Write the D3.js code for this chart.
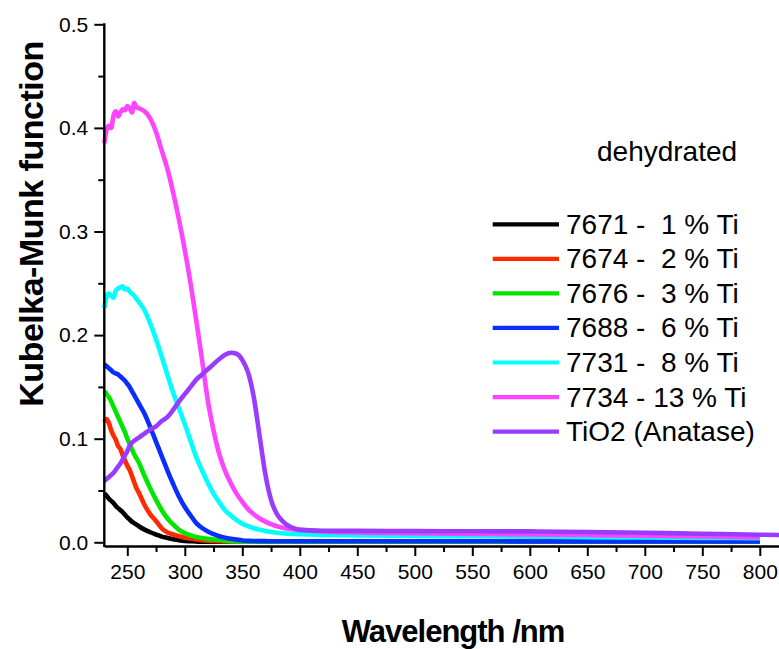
<!DOCTYPE html>
<html>
<head>
<meta charset="utf-8">
<script src="https://cdn.jsdelivr.net/npm/d3@7"></script>
<style>
  html, body { margin: 0; padding: 0; background: #fff; }
  svg { display: block; }
  text { font-family: "Liberation Sans", Arial, sans-serif; fill: #000; }
</style>
</head>
<body>
<svg id="chart" width="779" height="649"></svg>
<script>
// Wavelength grid (nm)
const wavelengths = [230,232,234,236,238,240,242,244,246,248,250,252,254,256,258,260,
  265,270,275,280,285,290,295,300,305,310,315,320,325,330,335,340,345,350,355,360,
  365,370,375,380,385,390,395,400,420,450,500,550,600,650,700,750,800,830];

// Kubelka-Munk function for each sample
const s7671 = [0.047,0.045,0.042,0.040,0.038,0.035,0.033,0.031,0.029,0.0265,0.024,0.022,0.020,0.0185,0.017,0.0155,
  0.0122,0.0097,0.0075,0.0055,0.0042,0.003,0.002,0.0013,0.001,0.0007,0.0005,0.0005,0.0005,0.0005,0.0005,0.0005,0.0005,0.0005,0.0005,0.0005,
  0.0005,0.0005,0.0005,0.0005,0.0005,0.0005,0.0005,0.0005,0.0005,0.0005,0.0005,0.0005,0.0005,0.0005,0.0005,0.0005,0.0005,null];
const s7674 = [0.116,0.119,0.115,0.108,0.103,0.099,0.093,0.090,0.084,0.079,0.074,0.070,0.064,0.058,0.052,0.048,
  0.036,0.027,0.0205,0.0135,0.0095,0.0075,0.0058,0.0045,0.0036,0.0028,0.0021,0.0016,0.0012,0.001,0.0008,0.0007,0.0006,0.0006,0.0005,0.0005,
  0.0005,0.0005,0.0005,0.0005,0.0005,0.0005,0.0005,0.0005,0.0005,0.0005,0.0005,0.0005,0.0005,0.0005,0.0005,0.0005,0.0005,null];
const s7676 = [0.146,0.143,0.140,0.136,0.131,0.126,0.121,0.116,0.111,0.106,0.100,0.095,0.090,0.085,0.081,0.077,
  0.064,0.052,0.041,0.031,0.023,0.017,0.012,0.0088,0.0068,0.0052,0.0041,0.0033,0.0027,0.0021,0.0015,0.001,0.0008,0.0006,0.0006,0.0005,
  0.0005,0.0005,0.0005,0.0005,0.0005,0.0005,0.0005,0.0005,0.0005,0.0005,0.0005,0.0005,0.0005,0.0005,0.0005,0.0005,0.0005,null];
const s7688 = [0.172,0.170,0.168,0.166,0.164,0.163,0.162,0.160,0.158,0.156,0.153,0.150,0.146,0.142,0.138,0.134,
  0.124,0.111,0.097,0.083,0.069,0.056,0.044,0.034,0.026,0.0185,0.0138,0.0105,0.0078,0.0058,0.0044,0.0034,0.0026,0.0018,0.0014,0.0012,
  0.0011,0.0011,0.001,0.001,0.001,0.001,0.001,0.001,0.001,0.001,0.001,0.001,0.0009,0.0009,0.0009,0.0008,0.0008,null];
const s7731 = [0.226,0.237,0.240,0.238,0.236,0.243,0.245,0.246,0.247,0.244,0.245,0.242,0.240,0.238,0.235,0.232,
  0.224,0.211,0.196,0.179,0.161,0.144,0.129,0.114,0.098,0.082,0.0695,0.0575,0.047,0.0385,0.031,0.026,0.0215,0.018,0.0155,0.0135,
  0.012,0.011,0.010,0.0093,0.0088,0.0083,0.008,0.0078,0.0072,0.0067,0.0062,0.0058,0.0055,0.005,0.0046,0.0043,0.004,null];
const s7734 = [0.385,0.398,0.402,0.400,0.412,0.416,0.411,0.415,0.418,0.417,0.421,0.419,0.415,0.424,0.420,0.419,
  0.416,0.409,0.396,0.378,0.360,0.337,0.311,0.282,0.250,0.214,0.176,0.137,0.108,0.085,0.069,0.057,0.047,0.039,0.032,0.027,
  0.023,0.020,0.0175,0.0155,0.014,0.013,0.0125,0.012,0.0105,0.0095,0.0088,0.008,0.0075,0.007,0.0063,0.0056,0.005,null];
const sTiO2 = [0.059,0.061,0.063,0.065,0.067,0.070,0.073,0.076,0.080,0.084,0.088,0.093,0.096,0.098,0.0995,0.101,
  0.105,0.109,0.112,0.117,0.121,0.128,0.136,0.143,0.150,0.157,0.162,0.167,0.172,0.177,0.181,0.183,0.182,0.176,0.164,0.140,
  0.103,0.066,0.041,0.0275,0.0205,0.016,0.0135,0.012,0.0112,0.011,0.0108,0.0106,0.0105,0.0100,0.0092,0.0083,0.0073,0.0068];

const seriesNames = ["7671 -  1 % Ti", "7674 -  2 % Ti", "7676 -  3 % Ti", "7688 -  6 % Ti",
  "7731 -  8 % Ti", "7734 - 13 % Ti", "TiO2 (Anatase)"];
const seriesValues = [s7671, s7674, s7676, s7688, s7731, s7734, sTiO2];
const seriesColors = ["#000000", "#ff2a00", "#00e600", "#0a2eff", "#00ffff", "#ff44ff", "#9a3cff"];

const xMajorTicks = [250,300,350,400,450,500,550,600,650,700,750,800];
const xMinorTicks = [275,325,375,425,475,525,575,625,675,725,775,825];
const yMajorTicks = [0.0,0.1,0.2,0.3,0.4,0.5];
const yMinorTicks = [0.05,0.15,0.25,0.35,0.45];

const svg = d3.select("#chart");

const x = d3.scaleLinear().domain([230, 830]).range([104.3, 794.3]);
const y = d3.scaleLinear().domain([0, 0.5]).range([542.3, 24.3]);
const axisY = 546;   // x axis sits slightly below zero

// curves (drawn first so axes sit on top)
const line = d3.line()
  .defined(d => d[1] != null)
  .x(d => x(d[0]))
  .y(d => y(d[1]))
  .curve(d3.curveMonotoneX);

const plot = svg.append("g");
seriesValues.forEach((vals, i) => {
  plot.append("path")
    .datum(wavelengths.map((w, j) => [w, vals[j]]))
    .attr("fill", "none")
    .attr("stroke", seriesColors[i])
    .attr("stroke-width", 4.6)
    .attr("stroke-linejoin", "round")
    .attr("stroke-linecap", "butt")
    .attr("d", line);
});

// x axis
const gx = svg.append("g").attr("transform", `translate(0,${axisY})`);
gx.call(d3.axisBottom(x).tickValues(xMajorTicks).tickSize(10).tickSizeOuter(0).tickPadding(8).tickFormat(d3.format("d")));
gx.append("g").call(d3.axisBottom(x).tickValues(xMinorTicks).tickSize(6).tickSizeOuter(0).tickFormat(""))
  .select(".domain").remove();

// y axis
const gy = svg.append("g").attr("transform", `translate(${x(230)},0)`);
gy.call(d3.axisLeft(y).tickValues(yMajorTicks).tickSize(10).tickSizeOuter(0).tickPadding(6).tickFormat(d3.format(".1f")));
gy.select(".domain").remove();
gy.append("g").call(d3.axisLeft(y).tickValues(yMinorTicks).tickSize(6).tickSizeOuter(0).tickFormat(""))
  .select(".domain").remove();
gy.append("line").attr("x1", 0).attr("x2", 0).attr("y1", y(0.5) - 1).attr("y2", axisY + 1)
  .attr("stroke", "#000").attr("stroke-width", 2.4);

svg.selectAll(".domain").attr("stroke-width", 2.4);
svg.selectAll(".tick line").attr("stroke-width", 2);
svg.selectAll(".tick text")
  .style("font-family", "'Liberation Sans', Arial, sans-serif")
  .style("font-size", "21px");

// axis titles
svg.append("text")
  .attr("x", 453).attr("y", 642)
  .attr("text-anchor", "middle")
  .style("font-weight", "bold").style("font-size", "31px").style("letter-spacing", "-1px")
  .text("Wavelength /nm");

svg.append("text")
  .attr("transform", "translate(43,224) rotate(-90)")
  .attr("text-anchor", "middle")
  .style("font-weight", "bold").style("font-size", "34px").style("letter-spacing", "-0.5px")
  .text("Kubelka-Munk function");

// legend
svg.append("text")
  .attr("x", 597).attr("y", 161)
  .style("font-size", "28px")
  .text("dehydrated");

const legend = svg.append("g");
seriesNames.forEach((name, i) => {
  const ly = 224.3 + i * 34.55;
  legend.append("line")
    .attr("x1", 492.7).attr("x2", 559).attr("y1", ly).attr("y2", ly)
    .attr("stroke", seriesColors[i]).attr("stroke-width", 4.2);
  legend.append("text")
    .attr("x", 566).attr("y", ly).attr("dy", "0.34em")
    .attr("xml:space", "preserve")
    .style("white-space", "pre")
    .style("font-size", "28px")
    .text(name);
});
</script>
</body>
</html>
